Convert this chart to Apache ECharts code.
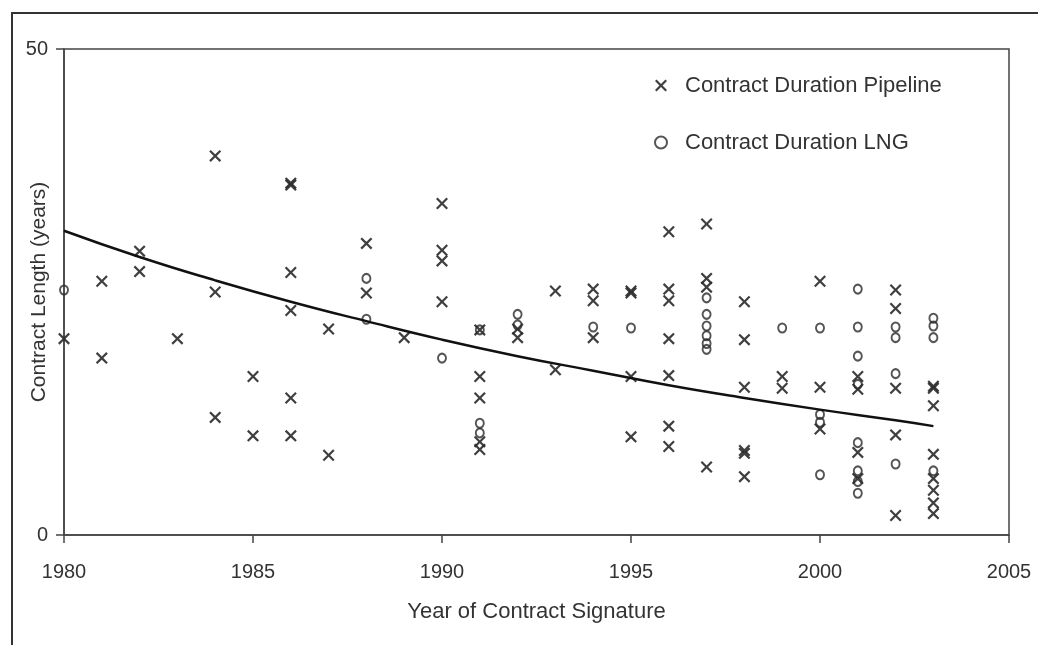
<!DOCTYPE html>
<html>
<head>
<meta charset="utf-8">
<script src="https://cdn.jsdelivr.net/npm/echarts@6/dist/echarts.min.js"></script>
<style>
html,body{margin:0;padding:0;background:#fff;}
#chart{width:1038px;height:645px;}
</style>
</head>
<body>
<div id="chart"></div>
<script>
// Contract Duration Pipeline: [year, contract length in years]
var pipeline = [
  [1980,20.2],
  [1981,26.1],[1981,18.2],
  [1982,29.2],[1982,27.1],
  [1983,20.2],
  [1984,39.0],[1984,25.0],[1984,12.1],
  [1985,16.3],[1985,10.2],
  [1986,36.2],[1986,36.0],[1986,27.0],[1986,23.1],[1986,14.1],[1986,10.2],
  [1987,21.2],[1987,8.2],
  [1988,30.0],[1988,24.9],
  [1989,20.3],
  [1990,34.1],[1990,29.3],[1990,28.2],[1990,24.0],
  [1991,21.1],[1991,16.3],[1991,14.1],[1991,9.6],[1991,8.8],
  [1992,21.2],[1992,20.3],
  [1993,25.1],[1993,17.0],
  [1994,25.3],[1994,24.1],[1994,20.3],
  [1995,25.1],[1995,24.9],[1995,16.3],[1995,10.1],
  [1996,31.2],[1996,25.3],[1996,24.1],[1996,20.2],[1996,16.4],[1996,11.2],[1996,9.1],
  [1997,32.0],[1997,26.4],[1997,25.5],[1997,7.0],
  [1998,24.0],[1998,20.1],[1998,15.2],[1998,8.7],[1998,8.4],[1998,6.0],
  [1999,16.3],[1999,15.1],
  [2000,26.1],[2000,15.2],[2000,10.9],
  [2001,16.3],[2001,15.0],[2001,8.5],[2001,5.8],
  [2002,25.2],[2002,23.3],[2002,15.1],[2002,10.3],[2002,2.0],
  [2003,15.3],[2003,15.1],[2003,13.3],[2003,8.3],[2003,5.8],[2003,4.6],[2003,3.3],[2003,2.2]
];
// Contract Duration LNG: [year, contract length in years]
var lng = [
  [1980,25.2],
  [1988,26.4],[1988,22.2],
  [1990,18.2],
  [1991,21.1],[1991,11.5],[1991,10.5],
  [1992,22.7],[1992,21.6],
  [1994,21.4],
  [1995,21.3],
  [1997,24.4],[1997,22.7],[1997,21.5],[1997,20.5],[1997,19.7],[1997,19.1],
  [1999,21.3],
  [2000,21.3],[2000,12.4],[2000,11.6],[2000,6.2],
  [2001,25.3],[2001,21.4],[2001,18.4],[2001,15.5],[2001,9.5],[2001,6.6],[2001,5.5],[2001,4.3],
  [2002,21.4],[2002,20.3],[2002,16.6],[2002,7.3],
  [2003,22.3],[2003,21.5],[2003,20.3],[2003,6.6]
];
// Trend line
var trendYears  = [1980,1982,1984,1986,1988,1990,1992,1994,1996,1998,2000,2002,2003];
var trendValues = [31.3,28.6,26.2,24.0,22.0,20.1,18.4,16.9,15.4,14.1,12.9,11.8,11.2];

var seriesNames = ['Contract Duration Pipeline','Contract Duration LNG'];
var xTitle = 'Year of Contract Signature';
var yTitle = 'Contract Length (years)';

var trend = trendYears.map(function(y,i){return [y,trendValues[i]];});
var crossPath = 'path://M0,1.3L1.3,0L5,3.7L8.7,0L10,1.3L6.3,5L10,8.7L8.7,10L5,6.3L1.3,10L0,8.7L3.7,5Z';
var ink = '#2a2a2a';
var font = 'Liberation Sans, Arial, sans-serif';

var chart = echarts.init(document.getElementById('chart'));
chart.setOption({
  backgroundColor:'#fff',
  animation:false,
  graphic:[{
    type:'polyline',
    shape:{points:[[12,645],[12,13],[1038,13]]},
    style:{stroke:'#333',lineWidth:2,fill:null}
  }],
  grid:{left:64,right:29,top:49,bottom:110,containLabel:false,outerBoundsMode:'none',
        show:true,borderColor:'#444',borderWidth:1.5,backgroundColor:'transparent'},
  legend:{
    orient:'vertical',left:649,top:69,itemGap:34,itemWidth:12,itemHeight:12,
    textStyle:{fontFamily:font,fontSize:22,color:'#333',padding:[0,0,0,13],lineHeight:23},
    data:[{name:seriesNames[0],icon:crossPath},{name:seriesNames[1]}]
  },
  xAxis:{
    type:'value',min:1980,max:2005,interval:5,
    name:xTitle,nameLocation:'middle',nameGap:66,nameMoveOverlap:false,
    nameTextStyle:{fontFamily:font,fontSize:22,color:'#333'},
    axisLine:{onZero:false,lineStyle:{color:'#444',width:1.5}},
    axisTick:{show:true,inside:false,length:8,lineStyle:{color:'#444',width:1.5}},
    axisLabel:{fontFamily:font,fontSize:20,color:'#333',margin:27,
               formatter:function(v){return String(v);}},
    splitLine:{show:false}
  },
  yAxis:{
    type:'value',min:0,max:50,interval:50,
    name:yTitle,nameLocation:'middle',nameGap:14,nameRotate:90,nameMoveOverlap:false,
    nameTextStyle:{fontFamily:font,fontSize:21,color:'#333'},
    axisLine:{show:true,onZero:false,lineStyle:{color:'#444',width:1.5}},
    axisTick:{show:true,inside:false,length:8,lineStyle:{color:'#444',width:1.5}},
    axisLabel:{fontFamily:font,fontSize:20,color:'#333',margin:16},
    splitLine:{show:false}
  },
  series:[
    {
      name:seriesNames[0],type:'scatter',data:pipeline,
      symbol:crossPath,symbolSize:12,
      itemStyle:{color:ink,opacity:0.9},z:3
    },
    {
      name:seriesNames[1],type:'scatter',data:lng,
      symbol:'circle',symbolSize:[8,9],
      itemStyle:{color:'rgba(0,0,0,0)',borderColor:ink,borderWidth:2},z:4
    },
    {
      name:'trend',type:'line',data:trend,smooth:true,showSymbol:false,symbol:'none',
      lineStyle:{color:'#111',width:2.5},z:5,silent:true
    }
  ]
});
</script>
</body>
</html>
